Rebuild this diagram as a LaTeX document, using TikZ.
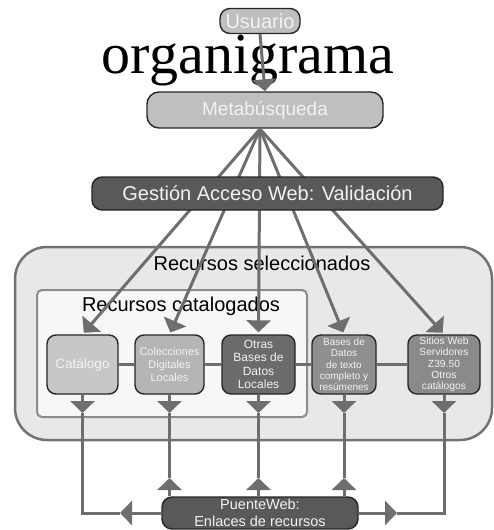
\documentclass[tikz,border=0pt]{standalone}
\usepackage{fontspec}
\setmainfont{Liberation Serif}
\setsansfont{Liberation Sans}
\usetikzlibrary{arrows.meta, calc}

\definecolor{flowgray}{HTML}{6E6E6E}
\definecolor{boxedge}{HTML}{262626}

\begin{document}
\begin{tikzpicture}[x=1pt, y=-1pt,
	box/.style={draw=boxedge, line width=1.4pt, rounded corners=9pt, text=white!95!black,
		font=\sffamily, align=center, inner sep=0pt, minimum height=59pt},
	flow/.style={draw=flowgray, line width=3pt},
	tip/.style={-{Triangle[width=24pt,length=12pt]}}]

	\useasboundingbox (0,0) rectangle (493,530);

	\coordinate (downrow) at (0,413);
	\coordinate (uprow) at (0,478);
	\coordinate (busrow) at (0,513);

	\def\bigText{\fontsize{20}{24}\selectfont}

	% Containers
	\draw[draw=black!55, line width=2.5pt, fill=black!9, rounded corners=32pt]
		(15,247) rectangle (492,440);
	\draw[draw=black!45, line width=2pt, fill=black!3, rounded corners=5pt]
		(37,290) rectangle (307,417);
	\node[font=\sffamily\bigText] (selec) at (262,263) {Recursos seleccionados};
	\node[font=\sffamily\bigText] (catal) at (181,306) {Recursos catalogados};

	% Title and user
	\node[anchor=base, font=\fontsize{58}{60}\selectfont] (title) at (248,73) {organigrama};
	\node[box, fill=black!25, minimum width=80pt, minimum height=25pt, font=\sffamily\bigText,
		rounded corners=10pt] (usuario) at (260,21) {Usuario};
	\node[box, fill=black!25, minimum width=236pt, minimum height=36pt,
		font=\sffamily\fontsize{19}{23}\selectfont, rounded corners=12pt] (meta) at (265,110) {Metabúsqueda};
	\draw[flow, tip] (usuario.south) -- (meta.north);

	% Resources
	\node[box, fill=black!22, minimum width=71pt, font=\sffamily\fontsize{13.5}{16}\selectfont]
		(cat) at (82.5,364.5) {Catálogo};
	\node[box, fill=black!29, minimum width=69pt, font=\sffamily\fontsize{11}{13}\selectfont]
		(col) at (169.5,364.5) {Colecciones\\ Digitales\\ Locales};
	\node[box, fill=black!58, minimum width=73pt, font=\sffamily\fontsize{12}{13.5}\selectfont]
		(otras) at (258.5,364.5) {Otras\\ Bases de\\ Datos\\ Locales};
	\node[box, fill=black!44, minimum width=64pt, font=\sffamily\fontsize{10}{11.3}\selectfont]
		(bases) at (344,364.5) {Bases de\\ Datos\\ de texto\\ completo y\\ resúmenes};
	\node[box, fill=black!46, minimum width=72pt, font=\sffamily\fontsize{10.3}{11.3}\selectfont]
		(sitios) at (444,364.5) {Sitios Web\\ Servidores\\ Z39.50\\ Otros\\ catálogos};

	% Links between resources
	\foreach \a/\b in {cat/col, col/otras, otras/bases, bases/sitios}
		\draw[flow] (\a.east) -- (\b.west);

	% Fan from Metabusqueda
	\coordinate (hub) at (260,129);
	\foreach \res in {cat, col, otras, bases, sitios}
		\draw[flow, tip, shorten >=2pt] (hub) -- (\res.north);
	\node[box, fill=black!65, minimum width=351pt, minimum height=33pt, font=\sffamily\bigText,
		rounded corners=10pt] (gestion) at (267.5,193.5) {Gestión Acceso Web: Validación};

	% Bridge
	\node[box, fill=black!65, minimum width=196pt, minimum height=32pt,
		font=\sffamily\fontsize{14.5}{17}\selectfont, rounded corners=10pt] (puente) at (260,513)
		{PuenteWeb:\\ Enlaces de recursos};

	\foreach \res in {cat, col, otras, bases, sitios}
		\draw[flow, tip] (\res.south) -- (\res.south |- downrow);

	\draw[flow] (cat.south |- downrow) -- (cat.south |- busrow) -- (120,513);
	\draw[flow, tip] (puente.west) -- (120,513);
	\draw[flow] (sitios.south |- downrow) -- (sitios.south |- busrow) -- (397,513);
	\draw[flow, tip] (puente.east) -- (397,513);

	\foreach \res in {col, otras, bases} {
		\draw[flow] (\res.south |- downrow) -- (\res.south |- uprow);
		\draw[flow, tip] (\res.south |- puente.north) -- (\res.south |- uprow);
	}

\end{tikzpicture}
\end{document}
